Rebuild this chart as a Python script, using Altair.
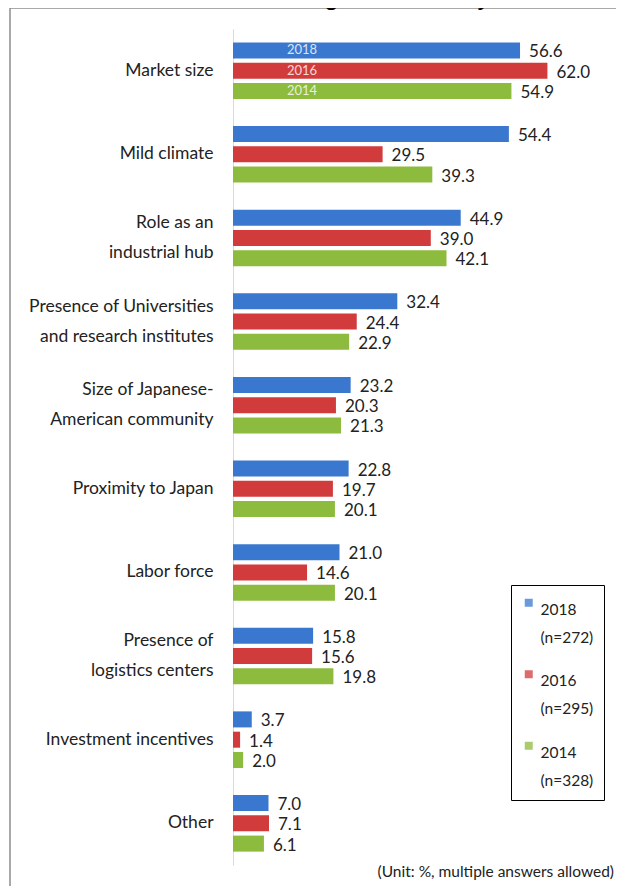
import altair as alt
import pandas as pd

categories = [
    "Market size",
    "Mild climate",
    "Role as an\nindustrial hub",
    "Presence of Universities\nand research institutes",
    "Size of Japanese-\nAmerican community",
    "Proximity to Japan",
    "Labor force",
    "Presence of\nlogistics centers",
    "Investment incentives",
    "Other",
]
years = ["2018", "2016", "2014"]
sample_n = {"2018": "(n=272)", "2016": "(n=295)", "2014": "(n=328)"}
v2018 = [56.6, 54.4, 44.9, 32.4, 23.2, 22.8, 21.0, 15.8, 3.7, 7.0]
v2016 = [62.0, 29.5, 39.0, 24.4, 20.3, 19.7, 14.6, 15.6, 1.4, 7.1]
v2014 = [54.9, 39.3, 42.1, 22.9, 21.3, 20.1, 20.1, 19.8, 2.0, 6.1]
colors = ["#3a78d0", "#d23b3b", "#8dbb3e"]

rows = []
for yr, vals in zip(years, [v2018, v2016, v2014]):
    for c, v in zip(categories, vals):
        rows.append({"category": c, "year": yr, "value": v, "vlabel": f"{v:.1f}"})
df = pd.DataFrame(rows)

FONT = "Lato"

legend_expr = " : ".join(
    [f"datum.label == '{y}' ? ['{y}', '{sample_n[y]}']" for y in years]
) + " : datum.label"

y_enc = alt.Y(
    "category:N",
    sort=categories,
    scale=alt.Scale(paddingInner=0.323, paddingOuter=0.16),
    axis=alt.Axis(
        title=None,
        ticks=False,
        domainColor="#d9d9d9",
        domainWidth=1,
        labelExpr="split(datum.label, '\\n')",
        labelOffset={"expr": "indexof(datum.label, '\\n') >= 0 ? -15 : 0"},
        labelFontSize=17.5,
        labelFont=FONT,
        labelColor="#222222",
        labelPadding=20,
        labelLineHeight=30,
        labelLimit=300,
    ),
)
yoff = alt.YOffset("year:N", sort=years, scale=alt.Scale(paddingInner=0.21, paddingOuter=0))
x_enc = alt.X("value:Q", scale=alt.Scale(domain=[0, 70]), axis=None)

bars = alt.Chart(df).mark_bar().encode(
    y=y_enc,
    yOffset=yoff,
    x=x_enc,
    color=alt.Color(
        "year:N",
        sort=years,
        scale=alt.Scale(domain=years, range=colors),
        legend=alt.Legend(
            title=None,
            orient="none",
            legendX=278,
            legendY=556,
            strokeColor="black",
            padding=10,
            symbolType="square",
            symbolSize=64,
            symbolOpacity=0.75,
            symbolStrokeWidth=0,
            labelFontSize=15.5,
            labelFont=FONT,
            labelColor="#222222",
            labelExpr=legend_expr,
            labelBaseline="top",
            rowPadding=19.5,
            labelLimit=200,
        ),
    ),
)

values = alt.Chart(df).mark_text(
    align="left", baseline="middle", dx=9, dy=2, fontSize=17, font=FONT, color="#222222"
).encode(y=alt.Y("category:N", sort=categories), yOffset=yoff, x=x_enc, text="vlabel:N")

inner = alt.Chart(df).transform_filter(
    alt.datum.category == categories[0]
).mark_text(
    align="center", baseline="middle", fontSize=13, font=FONT, color="white", opacity=0.8
).encode(
    y=alt.Y("category:N", sort=categories), yOffset=yoff, x=alt.value(69), text="year:N"
)

note = alt.Chart(pd.DataFrame({"t": ["(Unit: %, multiple answers allowed)"]})).mark_text(
    align="right", baseline="middle", fontSize=15.5, font=FONT, color="#222222"
).encode(x=alt.value(381), y=alt.value(843), text="t:N")

title = alt.Chart(pd.DataFrame({"t": ["Chart IV-1. Advantages of the Bay Area"]})).mark_text(
    align="center", baseline="bottom", fontSize=26, font="Liberation Sans", color="black"
).encode(x=alt.value(92), y=alt.value(-19), text="t:N")

frame_left = alt.Chart(pd.DataFrame({"a": [0]})).mark_rule(color="#8c8c8c", strokeWidth=1.5).encode(
    x=alt.value(-223), y=alt.value(-21), y2=alt.value(862)
)
frame_top = alt.Chart(pd.DataFrame({"a": [0]})).mark_rule(color="#8c8c8c", strokeWidth=1.5).encode(
    x=alt.value(-223), x2=alt.value(400), y=alt.value(-21)
)

chart = alt.layer(frame_left, frame_top, bars, values, inner, note, title).properties(
    width=355,
    height=836,
    padding={"left": 225, "top": 21, "right": 28, "bottom": 21},
    autosize=alt.AutoSizeParams(type="none"),
    background="white",
).configure(
    view=alt.ViewConfig(strokeWidth=0),
    style={"guide-label": {"lineHeight": 28}},
)

chart.save("out.html", embed_options={"renderer": "svg", "actions": False})
